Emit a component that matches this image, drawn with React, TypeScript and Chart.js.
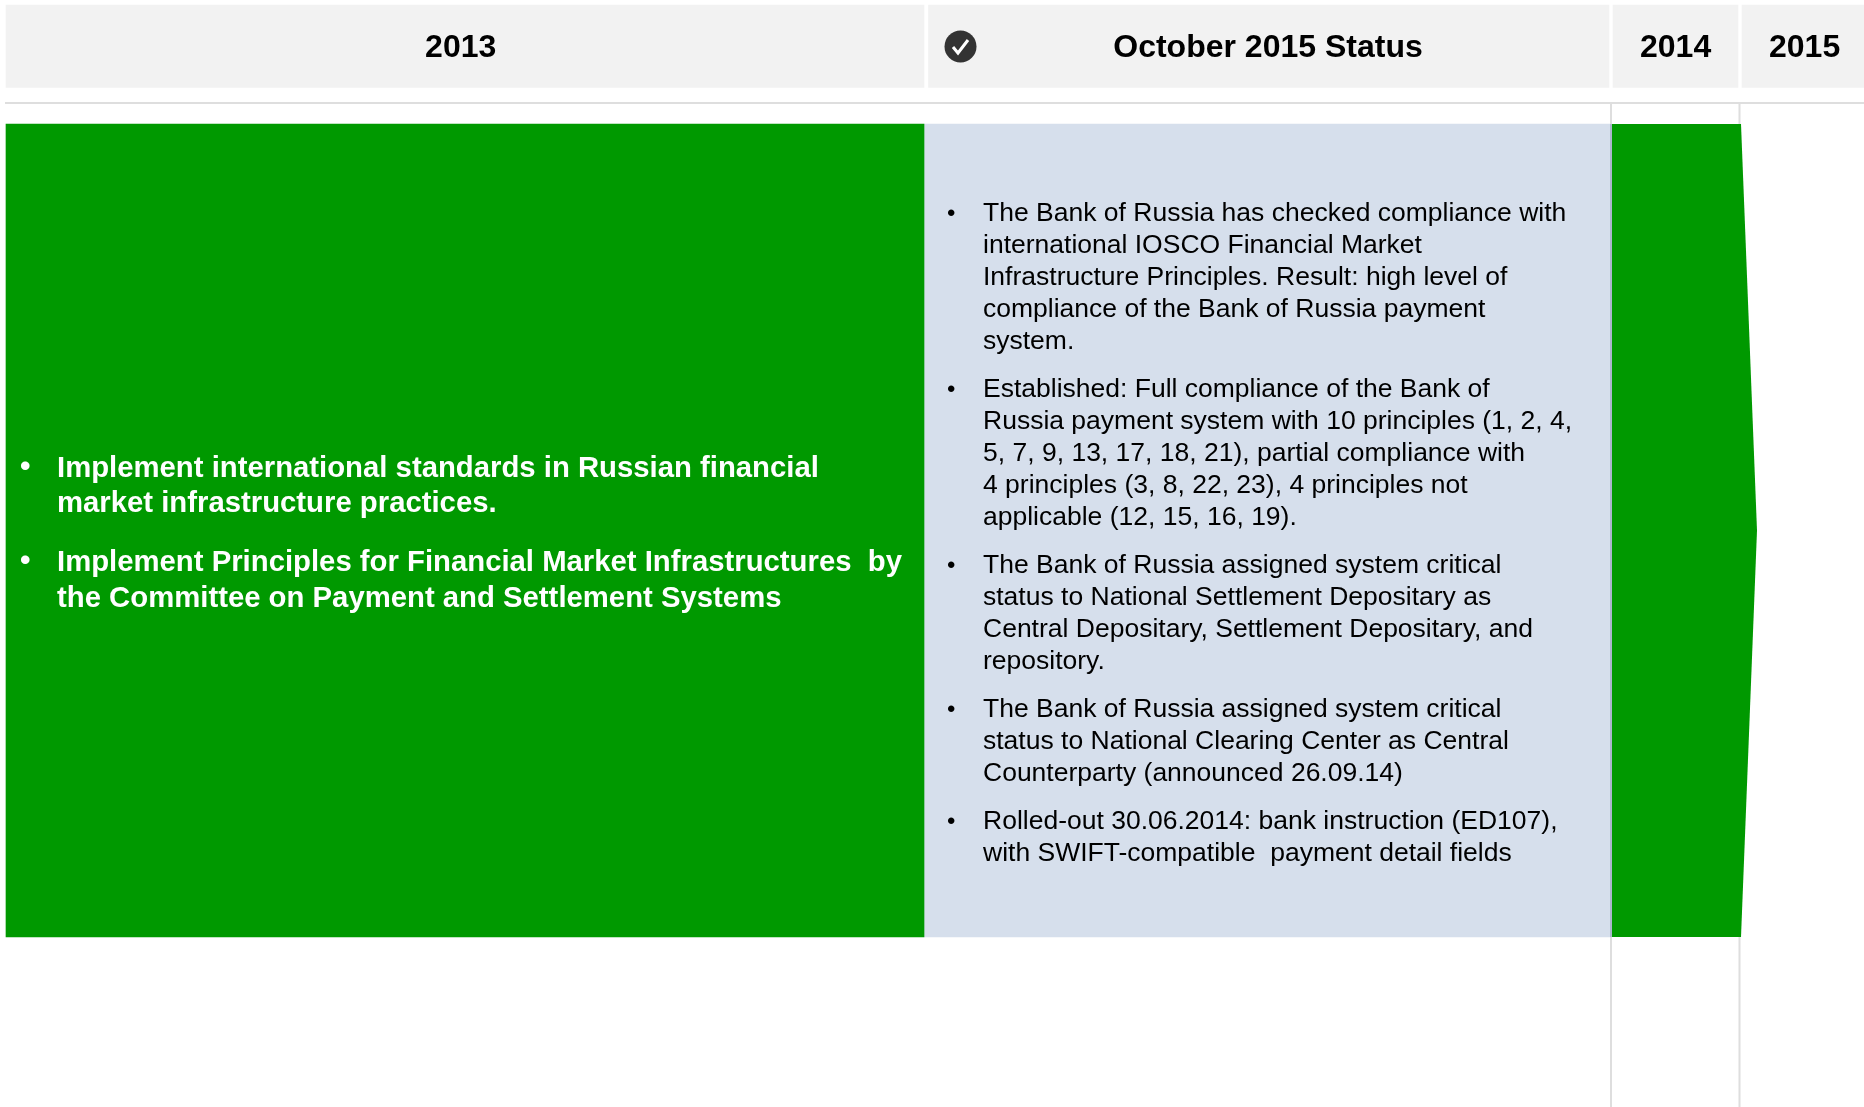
import React, { useEffect, useRef } from "react";
import { Chart, registerables } from "chart.js";

Chart.register(...registerables);

const headerLabels = ["2013", "October 2015 Status", "2014", "2015"];
const headerStarts = [6, 928.5, 1613, 1742];
const headerEnds = [924, 1609, 1738, 1864];
const headerLabelX = [460.7, 1268, 1675.6, 1804.6];

const bandTop = 124;
const bandBottom = 937;
const goalRange = [6, 924];
const statusRange = [924, 1611];
const arrowX = [1612, 1741, 1757, 1741, 1612];
const arrowY = [124, 124, 530.5, 937, 937];

const goalLines = [
  { text: "Implement international standards in Russian financial", y: 469, bullet: true },
  { text: "market infrastructure practices.", y: 504, bullet: false },
  { text: "Implement Principles for Financial Market Infrastructures  by", y: 563, bullet: true },
  { text: "the Committee on Payment and Settlement Systems", y: 599, bullet: false },
];

const statusLines = [
  { text: "The Bank of Russia has checked compliance with", y: 214, bullet: true },
  { text: "international IOSCO Financial Market", y: 246, bullet: false },
  { text: "Infrastructure Principles. Result: high level of", y: 278, bullet: false },
  { text: "compliance of the Bank of Russia payment", y: 310, bullet: false },
  { text: "system.", y: 342, bullet: false },
  { text: "Established: Full compliance of the Bank of", y: 390, bullet: true },
  { text: "Russia payment system with 10 principles (1, 2, 4,", y: 422, bullet: false },
  { text: "5, 7, 9, 13, 17, 18, 21), partial compliance with", y: 454, bullet: false },
  { text: "4 principles (3, 8, 22, 23), 4 principles not", y: 486, bullet: false },
  { text: "applicable (12, 15, 16, 19).", y: 518, bullet: false },
  { text: "The Bank of Russia assigned system critical", y: 566, bullet: true },
  { text: "status to National Settlement Depositary as", y: 598, bullet: false },
  { text: "Central Depositary, Settlement Depositary, and", y: 630, bullet: false },
  { text: "repository.", y: 662, bullet: false },
  { text: "The Bank of Russia assigned system critical", y: 710, bullet: true },
  { text: "status to National Clearing Center as Central", y: 742, bullet: false },
  { text: "Counterparty (announced 26.09.14)", y: 774, bullet: false },
  { text: "Rolled-out 30.06.2014: bank instruction (ED107),", y: 822, bullet: true },
  { text: "with SWIFT-compatible  payment detail fields", y: 854, bullet: false },
];

const FONT = '"Liberation Sans", Arial, sans-serif';

const textPlugin = {
  id: "slideText",
  afterDatasetsDraw(chart: any) {
    const { ctx, scales } = chart;
    const X = (v: number) => scales.x.getPixelForValue(v);
    const Y = (v: number) => scales.y.getPixelForValue(v);
    ctx.save();
    ctx.textBaseline = "middle";

    ctx.textAlign = "center";
    ctx.fillStyle = "#000000";
    ctx.font = `bold 32px ${FONT}`;
    headerLabels.forEach((t, i) => {
      ctx.fillText(t, X(headerLabelX[i]), Y(48));
    });

    ctx.textAlign = "left";
    ctx.fillStyle = "#ffffff";
    goalLines.forEach((l) => {
      ctx.font = `bold 29.3px ${FONT}`;
      ctx.fillText(l.text, X(57), Y(l.y));
      if (l.bullet) {
        ctx.font = `bold 30px ${FONT}`;
        ctx.fillText("•", X(20), Y(l.y - 1));
      }
    });

    ctx.fillStyle = "#000000";
    statusLines.forEach((l) => {
      ctx.font = `26.5px ${FONT}`;
      ctx.fillText(l.text, X(983), Y(l.y));
      if (l.bullet) {
        ctx.font = `24px ${FONT}`;
        ctx.fillText("•", X(947), Y(l.y));
      }
    });
    ctx.restore();
  },
};

const lineSet = (xs: number[], ys: number[], color: string, width: number, order: number) => ({
  type: "scatter",
  showLine: true,
  data: xs.map((x, i) => ({ x, y: ys[i] })),
  borderColor: color,
  borderWidth: width,
  pointRadius: 0,
  fill: false,
  order,
});

const barSet = (from: number, to: number, top: number, bottom: number, color: string, order: number) => ({
  type: "bar",
  indexAxis: "y",
  grouped: false,
  data: [{ x: [from, to], y: (top + bottom) / 2 }],
  barThickness: bottom - top,
  backgroundColor: color,
  borderWidth: 0,
  order,
});

export default function App() {
  const ref = useRef<HTMLCanvasElement>(null);
  useEffect(() => {
    document.body.style.margin = "0";
    const datasets: any[] = [
      lineSet([5, 1864], [103, 103], "#dedede", 2, 10),
      lineSet([1611, 1611], [103, 1107], "#dedede", 2, 10),
      lineSet([1739.5, 1739.5], [103, 1107], "#dedede", 2, 10),
      ...headerLabels.map((_, i) => barSet(headerStarts[i], headerEnds[i], 5, 87.5, "#f2f2f2", 8)),
      barSet(goalRange[0], goalRange[1], bandTop, bandBottom, "#009900", 6),
      barSet(statusRange[0], statusRange[1], bandTop, bandBottom, "#d6dfec", 6),
      {
        type: "scatter",
        showLine: true,
        data: arrowX.map((x, i) => ({ x, y: arrowY[i] })),
        borderWidth: 0,
        borderColor: "#009900",
        backgroundColor: "#009900",
        pointRadius: 0,
        fill: "shape",
        order: 5,
      },
      lineSet([1611, 1611], [bandTop, bandBottom], "#aab6cc", 2, 4),
      {
        type: "scatter",
        data: [{ x: 960.5, y: 46.5 }],
        pointRadius: 16,
        pointStyle: "circle",
        backgroundColor: "#333333",
        borderWidth: 0,
        order: 3,
      },
      lineSet([953, 958, 968], [47, 53, 40], "#ffffff", 3, 2),
    ];
    const chart = new Chart(ref.current!, {
      data: { datasets },
      plugins: [textPlugin],
      options: {
        animation: false,
        responsive: false,
        layout: { padding: 0, autoPadding: false },
        plugins: { legend: { display: false }, tooltip: { enabled: false } },
        scales: {
          x: { type: "linear", min: 0, max: 1864, display: false, offset: false },
          y: { type: "linear", min: 0, max: 1107, reverse: true, display: false, offset: false },
        },
      },
    } as any);
    return () => chart.destroy();
  }, []);
  return (
    <canvas
      ref={ref}
      width={1864}
      height={1107}
      style={{ display: "block", width: 1864, height: 1107 }}
    />
  );
}
